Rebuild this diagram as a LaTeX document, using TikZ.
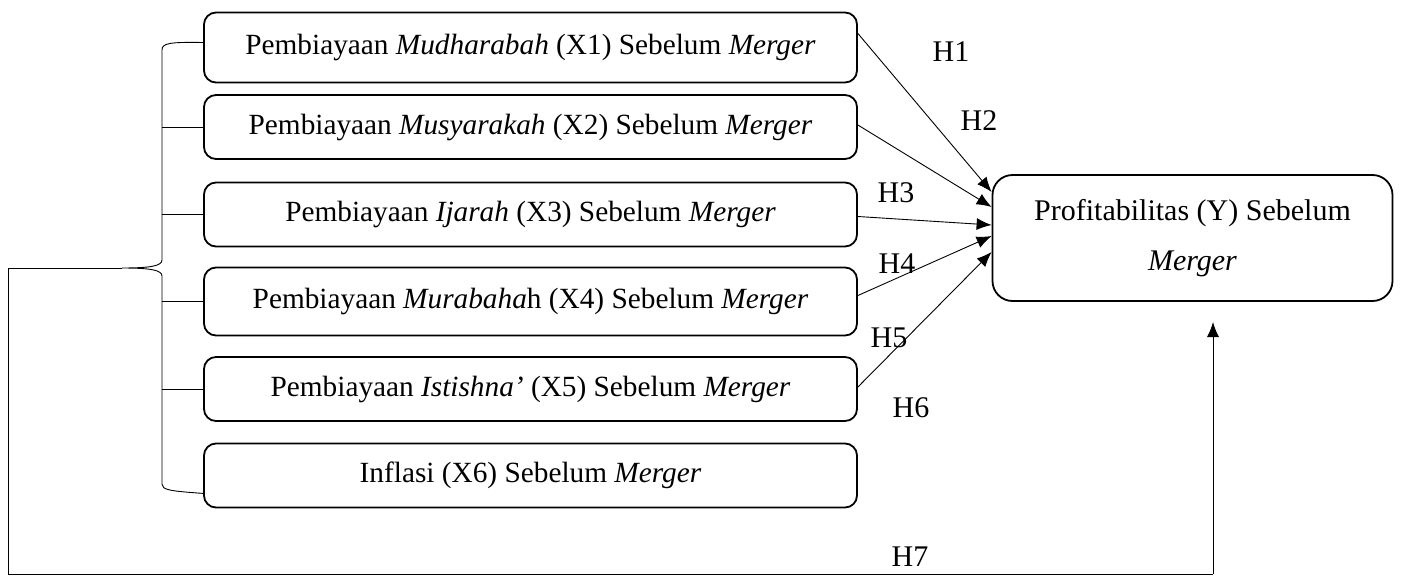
\documentclass[tikz,border=0pt]{standalone}
\usepackage{fontspec}
\setmainfont{Liberation Serif}
\usetikzlibrary{calc,arrows.meta,positioning}

\begin{document}
\begin{tikzpicture}[x=1pt,y=-1pt,
  every node/.style={font=\fontsize{30}{36}\selectfont},
  varbox/.style={draw, line width=1.8pt, rounded corners=12pt, minimum width=653pt,
    minimum height=64pt, inner sep=0pt, align=center},
  xbox/.style={varbox, font=\fontsize{29.3}{35}\selectfont},
  link/.style={line width=0.9pt, -{Latex[length=15pt,width=12pt]}},
  hlabel/.style={inner sep=0pt}]

  \useasboundingbox (0,0) rectangle (1402,576);

  % Independent variables (before merger)
  \node[xbox, minimum height=70pt] (x1) at (530.5,47.5) {Pembiayaan \textit{Mudharabah} (X1) Sebelum \textit{Merger}};
  \node[xbox] (x2) at (530.5,127) {Pembiayaan \textit{Musyarakah} (X2) Sebelum \textit{Merger}};
  \node[xbox] (x3) at (530.5,214.5) {Pembiayaan \textit{Ijarah} (X3) Sebelum \textit{Merger}};
  \node[xbox, minimum height=68pt] (x4) at (530.5,301.5) {Pembiayaan \textit{Murabaha}h (X4) Sebelum \textit{Merger}};
  \node[xbox] (x5) at (530.5,389) {Pembiayaan \textit{Istishna’} (X5) Sebelum \textit{Merger}};
  \node[xbox] (x6) at (530.5,475.5) {Inflasi (X6) Sebelum \textit{Merger}};

  % Dependent variable
  \node[varbox, minimum width=400pt, minimum height=126pt, rounded corners=20pt] (y) at (1192.5,238)
    {Profitabilitas (Y) Sebelum\\[14pt]\textit{Merger}};

  % Partial effects H1 - H5
  \draw[link] ($(x1.east)+(0,-14)$) -- ($(y.west)+(0,-46)$);
  \draw[link] ($(x2.east)+(0,-2)$) -- ($(y.west)+(0,-31)$);
  \draw[link] ($(x3.east)+(0,2)$) -- ($(y.west)+(0,-13)$);
  \draw[link] ($(x4.east)+(0,-6)$) -- ($(y.west)+(0,-2)$);
  \draw[link] ($(x5.east)+(0,-2)$) -- ($(y.west)+(0,14)$);

  \node[hlabel] (h1) at (951,52) {H1};
  \node[hlabel] (h2) at (979,121) {H2};
  \node[hlabel] (h3) at (896,193) {H3};
  \node[hlabel] (h4) at (897,264) {H4};
  \node[hlabel] (h5) at (889,338) {H5};
  \node[hlabel] (h6) at (911,408) {H6};
  \node[hlabel] (h7) at (910,557) {H7};

  % Brace grouping all variables
  \coordinate (tip) at (122,268);
  \draw[line width=0.9pt] ($(x1.west)+(0,-5)$) .. controls (170,42) and (162,43) .. (162,50)
    -- (162,260) .. controls (162,266) and (150,268) .. (tip)
    .. controls (150,268) and (162,270) .. (162,276)
    -- (162,484) .. controls (162,490) and (170,491) .. ($(x6.south west)+(0,-15)$);
  \foreach \b in {x2,x3,x4,x5}
    \draw[line width=0.9pt] (\b.west) -- ++(-41,0);

  % Simultaneous effect H7
  \coordinate (cl) at (8,574);
  \coordinate (cr) at (1213,574);
  \coordinate (h7end) at (1213,322);
  \draw[line width=0.9pt] (tip) -| (cl) -- (cr);
  \draw[link] (cr) -- (h7end);

\end{tikzpicture}
\end{document}
